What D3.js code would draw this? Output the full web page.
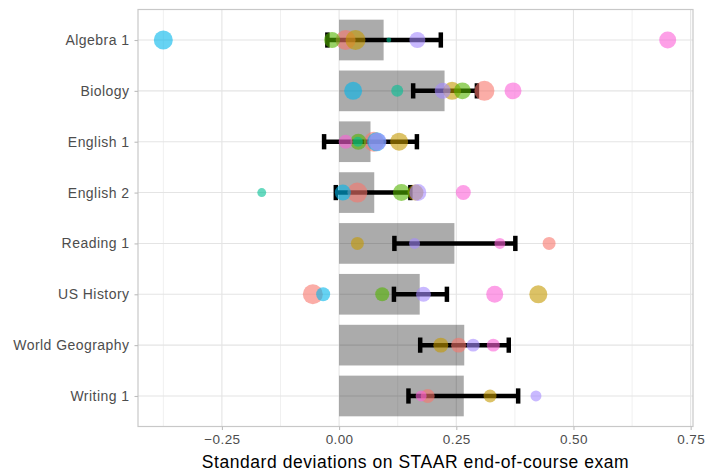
<!DOCTYPE html>
<html>
<head>
<meta charset="utf-8">
<script src="https://cdn.jsdelivr.net/npm/d3@7"></script>
<style>
  html, body { margin: 0; padding: 0; background: #fff; }
  svg { display: block; }
  text { font-family: "Liberation Sans", Arial, sans-serif; }
</style>
</head>
<body>
<div id="chart"></div>
<script>
// Subjects shown on the y axis, top to bottom
const categories = ["Algebra 1", "Biology", "English 1", "English 2",
  "Reading 1", "US History", "World Geography", "Writing 1"];

// Pooled effect (bar) and its confidence interval
const pooled = [0.095, 0.225, 0.067, 0.075, 0.246, 0.172, 0.267, 0.266];
const ciLow  = [-0.025, 0.158, -0.032, -0.007, 0.118, 0.117, 0.173, 0.148];
const ciHigh = [0.217, 0.294, 0.166, 0.152, 0.376, 0.230, 0.362, 0.382];

// Individual estimates per group (null = no estimate) and their weights
const groupNames  = ["g1", "g2", "g3", "g4", "g5", "g6", "g7"];
const groupColors = ["#F8766D", "#C49A00", "#53B400", "#00C094", "#00B6EB", "#A58AFF", "#FB61D7"];
const g1Values = [0.014, 0.310, 0.074, 0.039, 0.448, -0.056, 0.255, 0.189];
const g2Values = [0.035, 0.241, 0.128, 0.163, 0.039, 0.425, 0.217, 0.322];
const g3Values = [-0.015, 0.263, 0.041, 0.133, null, 0.092, null, null];
const g4Values = [0.106, 0.124, 0.040, -0.165, null, null, null, null];
const g5Values = [-0.375, 0.030, 0.080, 0.008, null, -0.034, null, null];
const g6Values = [0.167, 0.221, 0.082, 0.168, 0.161, 0.180, 0.286, 0.420];
const g7Values = [0.701, 0.371, 0.014, 0.265, 0.343, 0.332, 0.329, 0.175];

const g1Weights = [100, 100, 100, 100, 42, 100, 56, 49];
const g2Weights = [100, 81, 81, 64, 42, 81, 56, 42];
const g3Weights = [64, 72, 64, 72, null, 49, null, null];
const g4Weights = [6, 36, 25, 20, null, null, null, null];
const g5Weights = [90, 81, 90, 64, null, 49, null, null];
const g6Weights = [64, 64, 81, 72, 30, 56, 42, 30];
const g7Weights = [72, 72, 49, 56, 30, 72, 42, 30];

const xTicks = [-0.25, 0, 0.25, 0.5, 0.75];
const xMinorTicks = [-0.375, -0.125, 0.125, 0.375, 0.625];
const xTitle = "Standard deviations on STAAR end-of-course exam";

const valueSets  = [g1Values, g2Values, g3Values, g4Values, g5Values, g6Values, g7Values];
const weightSets = [g1Weights, g2Weights, g3Weights, g4Weights, g5Weights, g6Weights, g7Weights];

const W = 714, H = 472;
const panel = { left: 138, right: 693, top: 9.5, bottom: 426.5 };

const svg = d3.select("#chart").append("svg")
  .attr("width", W).attr("height", H);

const x = d3.scaleLinear().domain([-0.429, 0.755]).range([panel.left, panel.right]);
const y = d3.scalePoint().domain(categories).range([panel.top, panel.bottom]).padding(0.6);
const step = y.step();
const r = d3.scaleSqrt().domain([0, 100]).range([0, 10]);
const fmt = d3.format(".2f");

// grid
const grid = svg.append("g");
grid.selectAll("line.minor").data(xMinorTicks).join("line")
  .attr("x1", d => x(d)).attr("x2", d => x(d))
  .attr("y1", panel.top).attr("y2", panel.bottom)
  .attr("stroke", "#F0F0F0").attr("stroke-width", 1);
grid.selectAll("line.major").data(xTicks.filter(d => x(d) < panel.right - 1)).join("line")
  .attr("x1", d => x(d)).attr("x2", d => x(d))
  .attr("y1", panel.top).attr("y2", panel.bottom)
  .attr("stroke", "#E4E4E4").attr("stroke-width", 1.1);
grid.selectAll("line.h").data(categories).join("line")
  .attr("x1", panel.left).attr("x2", panel.right)
  .attr("y1", d => y(d)).attr("y2", d => y(d))
  .attr("stroke", "#E4E4E4").attr("stroke-width", 1.1);

// bars
svg.append("g").selectAll("rect").data(categories).join("rect")
  .attr("x", (d, i) => Math.min(x(0), x(pooled[i])))
  .attr("width", (d, i) => Math.abs(x(pooled[i]) - x(0)))
  .attr("y", d => y(d) - step * 0.4)
  .attr("height", step * 0.8)
  .attr("fill", "#000").attr("fill-opacity", 0.33);

// error bars
const eb = svg.append("g").attr("stroke", "#000").attr("stroke-width", 4.5);
categories.forEach((c, i) => {
  const cy = y(c), h = step * 0.15;
  eb.append("line").attr("x1", x(ciLow[i])).attr("x2", x(ciHigh[i])).attr("y1", cy).attr("y2", cy);
  eb.append("line").attr("x1", x(ciLow[i])).attr("x2", x(ciLow[i])).attr("y1", cy - h).attr("y2", cy + h);
  eb.append("line").attr("x1", x(ciHigh[i])).attr("x2", x(ciHigh[i])).attr("y1", cy - h).attr("y2", cy + h);
});

// points
const pts = [];
valueSets.forEach((vals, g) => {
  vals.forEach((v, i) => {
    if (v !== null) pts.push({ g, cat: categories[i], v, w: weightSets[g][i] });
  });
});
svg.append("g").selectAll("circle").data(pts).join("circle")
  .attr("cx", d => x(d.v)).attr("cy", d => y(d.cat))
  .attr("r", d => r(d.w))
  .attr("fill", d => groupColors[d.g]).attr("fill-opacity", 0.6);

// panel border
svg.append("rect")
  .attr("x", panel.left).attr("y", panel.top)
  .attr("width", panel.right - panel.left).attr("height", panel.bottom - panel.top)
  .attr("fill", "none").attr("stroke", "#C8C8C8").attr("stroke-width", 1.2);

// x axis
const xAxis = svg.append("g").attr("transform", `translate(0,${panel.bottom})`)
  .call(d3.axisBottom(x).tickValues(xTicks).tickFormat(fmt).tickSize(3.5).tickPadding(4));
xAxis.select(".domain").remove();
xAxis.selectAll(".tick line").attr("stroke", "#BDBDBD").attr("stroke-width", 1.1);
xAxis.selectAll(".tick text")
  .attr("fill", "#4D4D4D").style("font-size", "13.5px").style("letter-spacing", "0.4px")
  .attr("font-family", null);

// y axis
const yAxis = svg.append("g").attr("transform", `translate(${panel.left},0)`)
  .call(d3.axisLeft(y).tickSize(3.5).tickPadding(5));
yAxis.select(".domain").remove();
yAxis.selectAll(".tick line").attr("stroke", "#BDBDBD").attr("stroke-width", 1.1);
yAxis.selectAll(".tick text")
  .attr("fill", "#4D4D4D").style("font-size", "14px").style("letter-spacing", "0.45px")
  .attr("font-family", null);

// axis title
svg.append("text")
  .attr("x", (panel.left + panel.right) / 2).attr("y", 468)
  .attr("text-anchor", "middle")
  .style("font-size", "17.5px").style("letter-spacing", "0.55px")
  .attr("fill", "#000")
  .text(xTitle);
</script>
</body>
</html>
